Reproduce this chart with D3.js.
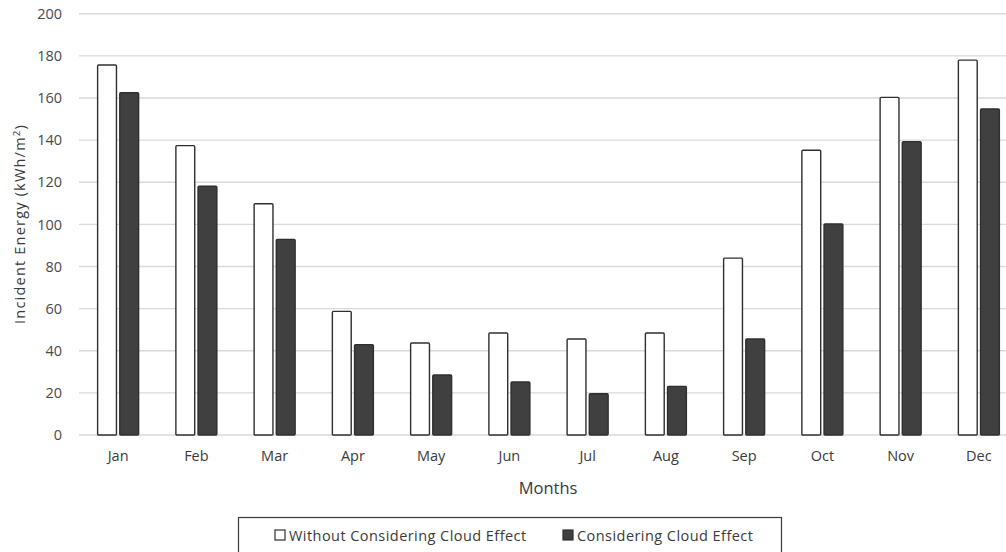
<!DOCTYPE html>
<html>
<head>
<meta charset="utf-8">
<script src="https://cdn.jsdelivr.net/npm/d3@7/dist/d3.min.js"></script>
<style>
  html, body { margin: 0; padding: 0; background: #fff; }
  svg { display: block; font-family: "Open Sans", "Noto Sans", sans-serif; }
</style>
</head>
<body>
<svg id="chart" width="1006" height="552"></svg>
<script>
// Monthly incident energy on the surface, kWh/m²
const months = ["Jan", "Feb", "Mar", "Apr", "May", "Jun", "Jul", "Aug", "Sep", "Oct", "Nov", "Dec"];
const seriesNames = ["Without Considering Cloud Effect", "Considering Cloud Effect"];
const withoutCloud = [175.7, 137.4, 109.8, 58.7, 43.7, 48.4, 45.6, 48.4, 84.0, 135.2, 160.3, 178.0];
const withCloud = [162.5, 118.1, 92.9, 42.9, 28.5, 25.2, 19.6, 23.1, 45.6, 100.2, 139.3, 154.8];
const yTicks = [0, 20, 40, 60, 80, 100, 120, 140, 160, 180, 200];

const fills = ["#ffffff", "#404040"];

const svg = d3.select("#chart");

const x0 = d3.scaleBand()
  .domain(months)
  .range([79, 1018])
  .paddingInner(0.476)
  .paddingOuter(0.238);

const x1 = d3.scaleBand()
  .domain(seriesNames)
  .range([0, x0.bandwidth()])
  .paddingInner(0.15);

const y = d3.scaleLinear().domain([0, 200]).range([435, 13.8]);

// Horizontal gridlines
svg.append("g")
  .selectAll("line")
  .data(yTicks)
  .join("line")
  .attr("x1", 79)
  .attr("x2", 1018)
  .attr("y1", d => y(d))
  .attr("y2", d => y(d))
  .attr("stroke", "#d9d9d9")
  .attr("stroke-width", 1.4);

// Y axis tick labels
const yAxis = d3.axisLeft(y).tickValues(yTicks).tickSize(0).tickPadding(0);
const gy = svg.append("g").attr("transform", "translate(62,0)").call(yAxis);
gy.select(".domain").remove();
gy.selectAll("text")
  .attr("fill", "#4a4a4a")
  .attr("font-size", 14.5)
  .attr("font-family", "'Open Sans', sans-serif");

// X axis month labels
const xAxis = d3.axisBottom(x0).tickSize(0).tickPadding(0);
const gx = svg.append("g").attr("transform", "translate(0,451)").call(xAxis);
gx.select(".domain").remove();
gx.selectAll("text")
  .attr("fill", "#3a3a3a")
  .attr("font-size", 14.5)
  .attr("font-family", "'Open Sans', sans-serif");

// Bars
const rows = months.map((m, i) => ({ month: m, values: [withoutCloud[i], withCloud[i]] }));
const groups = svg.append("g")
  .selectAll("g")
  .data(rows)
  .join("g")
  .attr("transform", d => `translate(${x0(d.month)},0)`);

groups.selectAll("rect")
  .data(d => d.values.map((v, k) => ({ key: seriesNames[k], value: v, k })))
  .join("rect")
  .attr("x", d => x1(d.key))
  .attr("y", d => y(d.value))
  .attr("width", x1.bandwidth())
  .attr("height", d => y(0) - y(d.value))
  .attr("rx", 1)
  .attr("fill", d => fills[d.k])
  .attr("stroke", "#2f2f2f")
  .attr("stroke-width", 1.4);

// Axis titles
svg.append("text")
  .attr("x", 548)
  .attr("y", 494)
  .attr("text-anchor", "middle")
  .attr("fill", "#3a3a3a")
  .attr("font-size", 16.5)
  .text("Months");

const yTitle = svg.append("text")
  .attr("transform", "translate(25,224) rotate(-90)")
  .attr("text-anchor", "middle")
  .attr("fill", "#3a3a3a")
  .attr("font-size", 14.5)
  .attr("letter-spacing", 1.2);
yTitle.append("tspan").text("Incident Energy (kWh/m");
yTitle.append("tspan").attr("font-size", 9.5).attr("dy", -5).text("2");
yTitle.append("tspan").attr("dy", 5).text(")");

// Legend
const legend = svg.append("g");
legend.append("rect")
  .attr("x", 238.5)
  .attr("y", 517.5)
  .attr("width", 543)
  .attr("height", 40)
  .attr("fill", "#fff")
  .attr("stroke", "#3a3a3a")
  .attr("stroke-width", 1.2);

const legendX = [275, 563];
const items = legend.selectAll("g.item")
  .data(seriesNames)
  .join("g")
  .attr("class", "item")
  .attr("transform", (d, i) => `translate(${legendX[i]},530)`);

items.append("rect")
  .attr("width", 10)
  .attr("height", 10)
  .attr("fill", (d, i) => fills[i])
  .attr("stroke", "#2f2f2f")
  .attr("stroke-width", 1.2);

items.append("text")
  .attr("x", 14)
  .attr("y", 10.5)
  .attr("fill", "#3a3a3a")
  .attr("font-size", 14.5)
  .attr("letter-spacing", 0.45)
  .text(d => d);
</script>
</body>
</html>
